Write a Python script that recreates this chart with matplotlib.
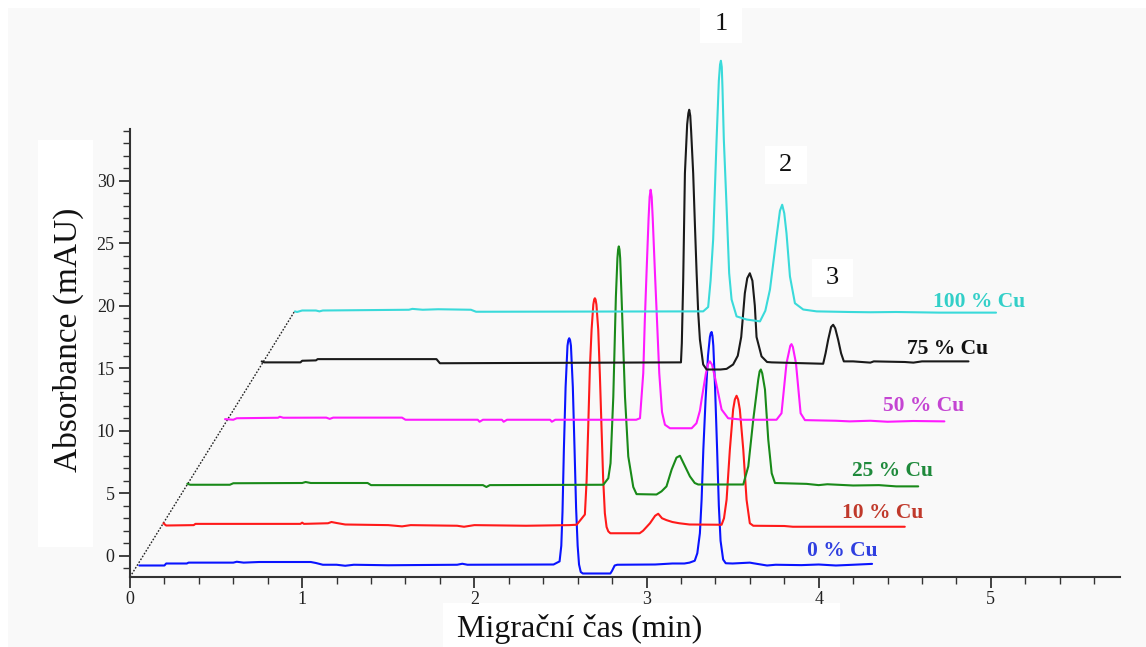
import numpy as np
import matplotlib
matplotlib.use('Agg')
import matplotlib.pyplot as plt
from matplotlib.patches import Rectangle
from matplotlib.ticker import FixedLocator

plt.rcParams['font.family'] = ['Liberation Serif', 'DejaVu Serif']

# ---------------- data (time in min, absorbance in mAU, offsets included) -------------
trace_0 = [(0.054, -0.78), (0.20, -0.78), (0.21, -0.62), (0.33, -0.62), (0.34, -0.55), (0.60, -0.55),
           (0.62, -0.48), (0.66, -0.55), (0.75, -0.50), (1.05, -0.50), (1.08, -0.58), (1.12, -0.72),
           (1.20, -0.72), (1.25, -0.80), (1.30, -0.72), (1.50, -0.76), (1.90, -0.72), (1.93, -0.64),
           (1.96, -0.72), (2.46, -0.70), (2.495, -0.45), (2.505, 0.8), (2.512, 3.5), (2.520, 8.5),
           (2.530, 13.5), (2.541, 16.8), (2.546, 17.25), (2.551, 17.4), (2.556, 17.25), (2.561, 16.8),
           (2.572, 13.5), (2.582, 8.5),
           (2.591, 3.8), (2.600, 0.8), (2.608, -0.7), (2.618, -1.3), (2.63, -1.42), (2.79, -1.42),
           (2.80, -1.2), (2.815, -0.78), (2.83, -0.72), (3.05, -0.70), (3.15, -0.62), (3.22, -0.62),
           (3.25, -0.55), (3.28, -0.40), (3.295, 0.2), (3.31, 1.8), (3.32, 4.5), (3.33, 8.5),
           (3.343, 12.5), (3.357, 16.0), (3.368, 17.5), (3.373, 17.8), (3.378, 17.9), (3.383, 17.6),
           (3.388, 16.8), (3.398, 13.5),
           (3.41, 8.5), (3.42, 4.0), (3.43, 1.2), (3.445, -0.3), (3.46, -0.6), (3.50, -0.62),
           (3.60, -0.55), (3.62, -0.60), (3.70, -0.78), (3.75, -0.72), (3.90, -0.75), (4.00, -0.70),
           (4.10, -0.78), (4.20, -0.72), (4.31, -0.65)]

trace_10 = [(0.194, 2.60), (0.21, 2.42), (0.37, 2.45), (0.38, 2.55), (0.99, 2.55), (1.00, 2.65),
            (1.01, 2.55), (1.15, 2.60), (1.17, 2.70), (1.20, 2.62), (1.25, 2.50), (1.50, 2.45),
            (1.58, 2.35), (1.63, 2.45), (1.90, 2.40), (1.94, 2.32), (2.00, 2.45), (2.30, 2.40),
            (2.55, 2.45), (2.594, 2.48), (2.613, 2.8), (2.642, 3.3), (2.652, 6.0), (2.661, 10.1),
            (2.671, 15.0), (2.681, 18.1), (2.691, 20.1), (2.696, 20.5), (2.700, 20.6), (2.704, 20.5),
            (2.709, 20.1), (2.7195, 18.1),
            (2.729, 14.5), (2.739, 10.1), (2.748, 6.2), (2.758, 3.4), (2.768, 2.3), (2.778, 1.95),
            (2.79, 1.8), (2.96, 1.8), (2.98, 2.0), (3.02, 2.6), (3.05, 3.2), (3.068, 3.36),
            (3.09, 3.0), (3.116, 2.85), (3.15, 2.7), (3.19, 2.6), (3.25, 2.5), (3.436, 2.48),
            (3.45, 3.0), (3.465, 4.48), (3.484, 8.48), (3.503, 11.7), (3.513, 12.5), (3.523, 12.8),
            (3.532, 12.5), (3.542, 11.7),
            (3.562, 8.48), (3.581, 4.48), (3.60, 2.6), (3.62, 2.4), (3.80, 2.38), (3.85, 2.32),
            (4.00, 2.32), (4.50, 2.32)]

trace_25 = [(0.333, 5.76), (0.35, 5.68), (0.58, 5.68), (0.60, 5.80), (1.00, 5.82), (1.02, 5.90),
            (1.05, 5.82), (1.38, 5.82), (1.40, 5.65), (2.05, 5.65), (2.07, 5.50), (2.09, 5.65),
            (2.749, 5.68), (2.778, 6.2), (2.791, 7.4), (2.807, 12.7), (2.822, 20.7), (2.831, 23.8),
            (2.835, 24.5), (2.839, 24.75), (2.843, 24.5), (2.847, 23.8), (2.855, 20.7), (2.875, 12.7),
            (2.894, 7.95), (2.923, 5.5),
            (2.942, 4.93), (3.058, 4.9), (3.087, 5.15), (3.116, 5.55), (3.146, 6.9), (3.174, 7.85),
            (3.194, 8.0), (3.215, 7.4), (3.252, 6.35), (3.28, 5.82), (3.30, 5.70), (3.562, 5.70),
            (3.591, 7.15), (3.62, 10.9), (3.649, 14.1), (3.657, 14.75), (3.664, 14.9), (3.672, 14.6),
            (3.688, 13.3), (3.707, 9.3),
            (3.727, 6.6), (3.746, 5.82), (3.93, 5.75), (4.00, 5.65), (4.05, 5.72), (4.20, 5.62),
            (4.35, 5.65), (4.45, 5.55), (4.578, 5.55)]

trace_50 = [(0.552, 10.93), (0.60, 10.88), (0.62, 11.00), (0.86, 11.04), (0.87, 11.12), (0.89, 11.04),
            (1.14, 11.05), (1.16, 10.95), (1.18, 11.05), (1.58, 11.05), (1.60, 10.88), (2.02, 10.88),
            (2.03, 10.72), (2.05, 10.88), (2.16, 10.88), (2.17, 10.72), (2.19, 10.88), (2.44, 10.88),
            (2.45, 10.72), (2.47, 10.88), (2.94, 10.88), (2.962, 11.0), (2.981, 14.6), (2.99, 18.8),
            (3.000, 22.6), (3.012, 27.0), (3.018, 28.7), (3.024, 29.28), (3.030, 28.7), (3.036, 27.0),
            (3.049, 22.6), (3.061, 18.8),
            (3.074, 14.6), (3.09, 11.5), (3.107, 10.48), (3.136, 10.2), (3.262, 10.2), (3.290, 10.6),
            (3.31, 11.6), (3.32, 12.5), (3.345, 14.6), (3.358, 15.35), (3.368, 15.55), (3.38, 15.3),
            (3.397, 14.3), (3.436, 11.7),
            (3.474, 11.0), (3.561, 10.88), (3.755, 10.88), (3.784, 11.4), (3.813, 15.4), (3.835, 16.8),
            (3.842, 16.93), (3.850, 16.7),
            (3.868, 15.4), (3.895, 11.4), (3.92, 10.85), (4.10, 10.80), (4.18, 10.75), (4.30, 10.80),
            (4.40, 10.72), (4.55, 10.78), (4.73, 10.75)]

trace_75 = [(0.765, 15.55), (0.78, 15.47), (0.99, 15.47), (1.00, 15.60), (1.08, 15.63), (1.09, 15.73),
            (1.78, 15.73), (1.80, 15.40), (3.200, 15.47), (3.205, 17.0), (3.213, 22.0), (3.223, 30.6),
            (3.236, 34.5), (3.243, 35.4), (3.248, 35.68), (3.254, 35.2), (3.259, 34.0), (3.271, 30.6),
            (3.281, 26.5), (3.291, 22.6),
            (3.300, 19.5), (3.310, 17.3), (3.329, 15.3), (3.349, 14.9), (3.43, 14.9), (3.465, 14.95),
            (3.503, 15.3), (3.53, 16.0), (3.55, 17.5), (3.571, 21.0), (3.585, 22.2), (3.600, 22.6),
            (3.615, 22.0), (3.629, 20.0), (3.639, 17.5), (3.668, 15.95), (3.70, 15.5), (3.727, 15.47),
            (4.026, 15.36), (4.04, 16.2), (4.055, 17.28), (4.072, 18.3), (4.084, 18.48), (4.096, 18.2),
            (4.113, 17.28), (4.13, 16.2),
            (4.146, 15.55), (4.20, 15.55), (4.30, 15.45), (4.32, 15.55), (4.50, 15.50), (4.55, 15.45),
            (4.60, 15.55), (4.87, 15.55)]

trace_100 = [(0.958, 19.55), (0.97, 19.50), (1.00, 19.62), (1.08, 19.62), (1.10, 19.55), (1.12, 19.62),
             (1.62, 19.68), (1.64, 19.75), (1.70, 19.68), (1.79, 19.72), (1.98, 19.68), (2.01, 19.52),
             (3.329, 19.55), (3.358, 19.9), (3.372, 22.0), (3.387, 25.3), (3.407, 33.3), (3.420, 38.0),
             (3.427, 39.3), (3.432, 39.6), (3.437, 39.1), (3.441, 37.5), (3.449, 33.3), (3.465, 27.9),
             (3.480, 22.6), (3.494, 20.5),
             (3.523, 19.15), (3.581, 18.9), (3.659, 18.75), (3.69, 19.6), (3.717, 21.3), (3.755, 25.5),
             (3.775, 27.6), (3.788, 28.08), (3.800, 27.4), (3.813, 25.8), (3.833, 22.35), (3.862, 20.2),
             (3.910, 19.7), (3.988, 19.55),
             (4.181, 19.50), (4.30, 19.48), (4.45, 19.50), (4.70, 19.45), (5.03, 19.45)]

traces = [trace_0, trace_10, trace_25, trace_50, trace_75, trace_100]
series_labels = ['0 % Cu', '10 % Cu', '25 % Cu', '50 % Cu', '75 % Cu', '100 % Cu']
line_colors = ['#0a14ff', '#ff1a1a', '#198a19', '#ff1aff', '#1a1a1a', '#3adada']
label_colors = ['#2f3fe0', '#c0392b', '#1f8a3c', '#c444d2', '#111111', '#33cfc8']
label_x = [4.135, 4.373, 4.43, 4.61, 4.75, 4.93]
label_y = [0.34, 3.44, 6.74, 11.96, 16.5, 20.3]

peak_numbers = ['1', '2', '3']
peak_num_x = [3.432, 3.809, 4.080]
peak_num_y = [42.56, 31.28, 22.24]

diag_x = [0.0, 0.958]
diag_y = [-1.7, 19.6]

xticks = [0, 1, 2, 3, 4, 5]
yticks = [0, 5, 10, 15, 20, 25, 30]

# ---------------- figure ----------------
W, H = 1146, 647
fig = plt.figure(figsize=(W / 100, H / 100), dpi=100, facecolor='white')


def px_box(x0, y0, x1, y1):
    return (x0 / W, 1 - y1 / H), (x1 - x0) / W, (y1 - y0) / H


fig.patches.append(Rectangle((8 / W, 0), 1 - 8 / W, 1 - 8 / H, transform=fig.transFigure,
                             facecolor='#f9f9f9', edgecolor='none', zorder=-10))
for box in [(38, 140, 93, 547), (443, 603, 840, 647), (700, 0, 742, 43),
            (765, 146, 807, 184), (812, 259, 853, 297)]:
    xy, w, h = px_box(*box)
    fig.patches.append(Rectangle(xy, w, h, transform=fig.transFigure,
                                 facecolor='white', edgecolor='none', zorder=-5))

ax = fig.add_axes([130 / W, 70 / H, 990 / W, 572 / H])
ax.set_facecolor('none')
ax.set_xlim(0, 5.75)
ax.set_ylim(-1.7, -1.7 + 572 / 12.5)

ax.plot(diag_x, diag_y, color='#222222', lw=1.0, ls=(0, (1.2, 1.2)), zorder=2)

for tr, c in zip(traces, line_colors):
    arr = np.array(tr)
    ax.plot(arr[:, 0], arr[:, 1], color=c, lw=1.5, zorder=3,
            solid_joinstyle='round', solid_capstyle='round')

for s, c, x, y in zip(series_labels, label_colors, label_x, label_y):
    ax.text(x, y, s, color=c, fontsize=15.5, fontweight='bold', ha='center', va='center', zorder=4)

for s, x, y in zip(peak_numbers, peak_num_x, peak_num_y):
    ax.text(x, y, s, color='#111111', fontsize=19, ha='center', va='center', zorder=4)

for side in ['top', 'right']:
    ax.spines[side].set_visible(False)
for side in ['left', 'bottom']:
    ax.spines[side].set_color('#333333')
    ax.spines[side].set_linewidth(1.5)
ax.spines['left'].set_bounds(-1.7, 34.1)
ax.spines['bottom'].set_bounds(0, 5.75)

ax.set_xticks(xticks)
ax.set_yticks(yticks)
ax.xaxis.set_minor_locator(FixedLocator([v / 5 for v in range(0, 29)]))
ax.yaxis.set_minor_locator(FixedLocator(list(range(-1, 35))))
ax.tick_params(which='major', direction='out', length=8, width=1.3, color='#333333',
               labelsize=13, labelcolor='#222222')
ax.tick_params(which='minor', direction='out', length=5, width=1.0, color='#333333')
ax.tick_params(axis='x', which='major', pad=2)
ax.tick_params(axis='y', which='major', pad=3)

ax.set_ylabel('Absorbance (mAU)', fontsize=24, color='#111111')
ax.yaxis.label.set_verticalalignment('center')
ax.yaxis.set_label_coords(-62 / 990, (577 - 340) / 572)
ax.set_xlabel('Migrační čas (min)', fontsize=23, color='#111111')
ax.xaxis.label.set_verticalalignment('center')
ax.xaxis.set_label_coords((580 - 130) / 990, (577 - 629) / 572)

fig.savefig('out.png', dpi=100, facecolor=fig.get_facecolor())
